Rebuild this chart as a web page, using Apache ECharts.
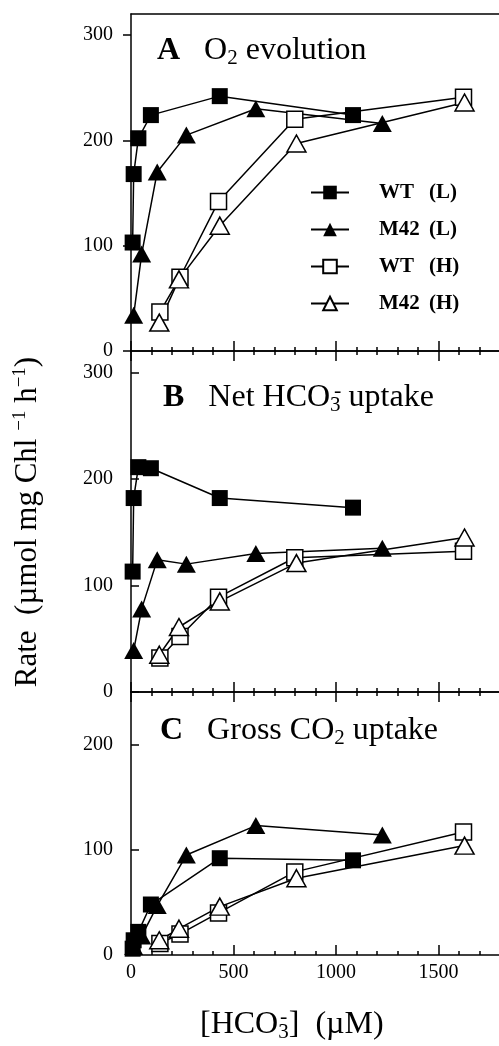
<!DOCTYPE html>
<html>
<head>
<meta charset="utf-8">
<script src="https://cdn.jsdelivr.net/npm/echarts@6/dist/echarts.min.js"></script>
<style>
  html, body { margin: 0; padding: 0; background: #fff; }
  #chart { width: 499px; height: 1046px; }
</style>
</head>
<body>
<div id="chart"></div>
<script>
// [HCO3-] (µM) of each measured point
const xWTL = [8, 13, 36, 97, 433, 1083]
const xM42L = [13, 52, 128, 270, 609, 1226]
const xWTH = [141, 239, 427, 799, 1622]
const xM42H = [138, 234, 433, 807, 1627]

// A  O2 evolution
const o2WTL = [103, 168, 202, 224, 242, 224]
const o2M42L = [34, 92, 170, 205, 230, 216]
const o2WTH = [37, 70, 142, 220, 241]
const o2M42H = [27, 68, 119, 197, 236]

// B  net HCO3- uptake
const netWTL = [113, 182, 211, 210, 182, 173]
const netM42L = [39, 78, 124, 120, 130, 135]
const netWTH = [32, 52, 89, 126, 132]
const netM42H = [35, 61, 85, 121, 145]

// C  gross CO2 uptake
const grossWTL = [6, 14, 22, 48, 92, 90]
const grossM42L = [8, 18, 47, 95, 123, 114]
const grossWTH = [11, 20, 40, 79, 117]
const grossM42H = [14, 25, 46, 73, 104]

const xTicks = [0, 500, 1000, 1500]
const yTicksAB = [0, 100, 200, 300]
const yTicksC = [0, 100, 200]
const names = ['WT (L)', 'M42 (L)', 'WT (H)', 'M42 (H)']

const font = 'Liberation Serif'
const chart = echarts.init(document.getElementById('chart'))

const marks = {
  'WT (L)': { symbol: 'rect', symbolSize: 16, itemStyle: { color: '#000' } },
  'M42 (L)': { symbol: 'triangle', symbolSize: [19, 17], itemStyle: { color: '#000' } },
  'WT (H)': { symbol: 'rect', symbolSize: 16, itemStyle: { color: '#fff', borderColor: '#000', borderWidth: 1.5 } },
  'M42 (H)': { symbol: 'triangle', symbolSize: [19, 17], itemStyle: { color: '#fff', borderColor: '#000', borderWidth: 1.5 } }
}

// panel -> index of the bottom x axis of that grid
const bottomAxis = [0, 3, 5]

const makeSeries = (name, xs, ys, panel) => ({
  name: name,
  type: 'line',
  xAxisIndex: bottomAxis[panel],
  yAxisIndex: panel,
  data: xs.map((x, i) => [x, ys[i]]),
  symbol: marks[name].symbol,
  symbolSize: marks[name].symbolSize,
  showAllSymbol: true,
  itemStyle: marks[name].itemStyle,
  lineStyle: { color: '#000', width: 1.5 },
  emphasis: { disabled: true },
  animation: false
})

// x axes: 0 = A bottom, 1 = A top, 2 = B top, 3 = B bottom, 4 = C top, 5 = C bottom
const xAxisBase = (grid, pos, labels) => ({
  type: 'value',
  gridIndex: grid,
  position: pos,
  min: 0,
  max: 1800,
  interval: 500,
  axisLine: { show: true, onZero: false, lineStyle: { color: '#000', width: 1.5 } },
  axisTick: { show: true, inside: true, length: 10, lineStyle: { color: '#000', width: 1.5 } },
  minorTick: { show: true, splitNumber: 5, length: 4, lineStyle: { color: '#000', width: 1.5 } },
  splitLine: { show: false },
  axisLabel: {
    show: labels, customValues: xTicks, margin: 8, color: '#000',
    fontFamily: font, fontSize: 20, formatter: (v) => String(v)
  }
})

const topBorder = (grid) => ({
  type: 'value', gridIndex: grid, position: 'top', min: 0, max: 1800,
  axisLine: { show: true, onZero: false, lineStyle: { color: '#000', width: 1.5 } },
  axisTick: { show: false }, axisLabel: { show: false }, splitLine: { show: false }
})

const yAxisBase = (grid, max, ticks, inside) => ({
  type: 'value',
  gridIndex: grid,
  min: 0,
  max: max,
  interval: 100,
  axisLine: { show: true, onZero: false, lineStyle: { color: '#000', width: 1.5 } },
  axisTick: { show: true, inside: inside, length: 8, customValues: ticks, lineStyle: { color: '#000', width: 1.5 } },
  splitLine: { show: false },
  axisLabel: { customValues: ticks, margin: 18, color: '#000', fontFamily: font, fontSize: 20 }
})

const rich = {
  b: { fontFamily: font, fontSize: 32, fontWeight: 'bold', padding: [0, 24, 0, 0] },
  t: { fontFamily: font, fontSize: 32 },
  sub: { fontFamily: font, fontSize: 21, padding: [15, 0, 0, 0] },
  ty: { fontFamily: font, fontSize: 31 },
  sup: { fontFamily: font, fontSize: 19, padding: [0, 0, 16, 0] },
  m: { fontFamily: font, fontSize: 22 }
}

const textEl = (x, y, text, align, rotation) => ({
  type: 'text',
  x: x,
  y: y,
  rotation: rotation || 0,
  style: {
    text: text, rich: rich, fill: '#000',
    align: align || 'left', textAlign: align || 'left',
    verticalAlign: 'middle', textVerticalAlign: 'middle'
  }
})

const option = {
  backgroundColor: '#fff',
  animation: false,
  grid: [
    { left: 131, top: 14, width: 369, height: 337, containLabel: false, outerBoundsMode: 'none' },
    { left: 131, top: 351, width: 369, height: 341, containLabel: false, outerBoundsMode: 'none' },
    { left: 131, top: 692, width: 369, height: 263, containLabel: false, outerBoundsMode: 'none' }
  ],
  xAxis: [
    xAxisBase(0, 'bottom', false),
    topBorder(0),
    xAxisBase(1, 'top', false),
    xAxisBase(1, 'bottom', false),
    xAxisBase(2, 'top', false),
    xAxisBase(2, 'bottom', true)
  ],
  yAxis: [
    yAxisBase(0, 320, yTicksAB, false),
    yAxisBase(1, 320, yTicksAB, true),
    yAxisBase(2, 250, yTicksC, true)
  ],
  legend: {
    data: names,
    orient: 'vertical',
    left: 310,
    top: 182,
    padding: 0,
    itemWidth: 38,
    itemHeight: 17,
    itemGap: 16,
    selectedMode: false,
    formatter: (name) => {
      const parts = name.split(' ')
      return '{n|' + parts[0] + '}{p|' + parts[1] + '}'
    },
    textStyle: {
      color: '#000',
      rich: {
        n: { fontFamily: font, fontSize: 21, fontWeight: 'bold', width: 50, padding: [0, 0, 0, 25] },
        p: { fontFamily: font, fontSize: 21, fontWeight: 'bold' }
      }
    }
  },
  graphic: [
    textEl(157, 51, '{b|A}{t|O}{sub|2}{t| evolution}'),
    textEl(163, 398, '{b|B}{t|Net HCO}{sub|3}{t| uptake}'),
    textEl(334, 391, '{m|-}'),
    textEl(160, 731, '{b|C}{t|Gross CO}{sub|2}{t| uptake}'),
    textEl(28, 522, '{ty|Rate  (µmol mg Chl }{sup|−1}{ty| h}{sup|−1}{ty|)}', 'center', Math.PI / 2),
    textEl(200, 1025, '{t|[HCO}{sub|3}{t|]  (µM)}'),
    textEl(280, 1017, '{m|-}')
  ],
  series: [
    makeSeries('WT (L)', xWTL, o2WTL, 0),
    makeSeries('M42 (L)', xM42L, o2M42L, 0),
    makeSeries('WT (H)', xWTH, o2WTH, 0),
    makeSeries('M42 (H)', xM42H, o2M42H, 0),
    makeSeries('WT (L)', xWTL, netWTL, 1),
    makeSeries('M42 (L)', xM42L, netM42L, 1),
    makeSeries('WT (H)', xWTH, netWTH, 1),
    makeSeries('M42 (H)', xM42H, netM42H, 1),
    makeSeries('WT (L)', xWTL, grossWTL, 2),
    makeSeries('M42 (L)', xM42L, grossM42L, 2),
    makeSeries('WT (H)', xWTH, grossWTH, 2),
    makeSeries('M42 (H)', xM42H, grossM42H, 2)
  ]
}

chart.setOption(option)
</script>
</body>
</html>
